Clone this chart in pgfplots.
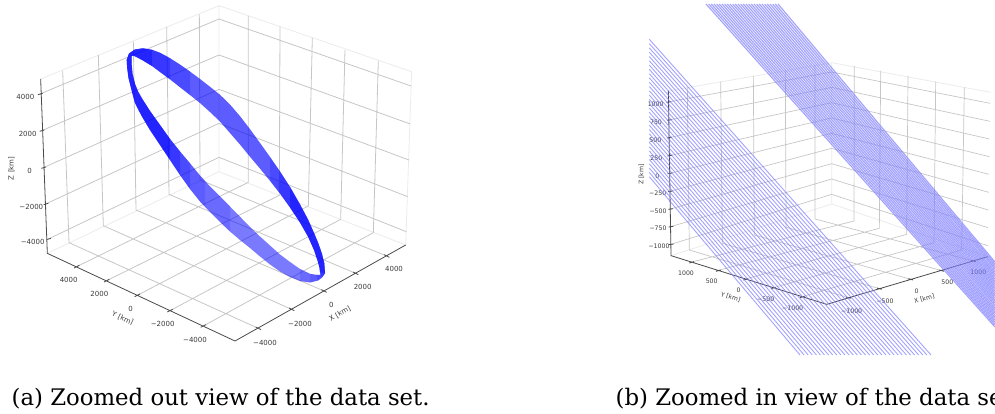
\documentclass[border=0pt]{standalone}
\usepackage{fontspec}
\setmainfont{DejaVu Sans}
\newfontfamily\capfont{DejaVu Serif}
\usepackage{pgfplots}
\pgfplotsset{compat=1.18}
\definecolor{gridc}{HTML}{C6C6C6}
\definecolor{panec}{HTML}{EBEBEB}
\definecolor{axc}{HTML}{4A4A4A}
\definecolor{txt}{HTML}{3A3A3A}
\definecolor{bandc}{HTML}{7C7CFF}
\pgfplotsset{canvas/.style={at={(0pt,0pt)},anchor=south west,scale only axis,width=995pt,height=414pt,
  y dir=reverse,ymin=0,ymax=1242,hide axis,clip mode=individual,unbounded coords=jump},
  ribbon/.style={draw=none,fill=blue,fill opacity=#1,no marks}}
\tikzset{lab/.style={font=\fontsize{#1}{#1}\selectfont,text=txt,inner sep=0pt}}
\begin{document}
\begin{tikzpicture}
\useasboundingbox (0pt,0pt) rectangle (995pt,414pt);
% ---------- panel (a): frame in zoom units ----------
\begin{axis}[canvas,xmin=0,xmax=2985]
\addplot[panec,line width=.8pt,no marks] table[row sep=crcr]{
142 760\\ 657 515\\ 1217 735\\ nan nan\\ 122 237\\ 657 17\\ 1235 215\\ nan nan\\ 657 17\\ 657 515\\ nan nan\\ 1235 215\\ 1217 735\\};
\addplot[gridc,line width=.8pt,no marks] table[row sep=crcr]{
207 728\\ 188 212\\ nan nan\\ 310 677\\ 295 165\\ nan nan\\ 408 630\\ 400 125\\ nan nan\\ 507 583\\ 500 80\\ nan nan\\ 600 540\\ 598 43\\ nan nan\\
745 547\\ 745 48\\ nan nan\\ 838 586\\ 840 80\\ nan nan\\ 925 618\\ 937 113\\ nan nan\\ 1022 658\\ 1035 150\\ nan nan\\ 1120 698\\ 1135 183\\ nan nan\\
120 282\\ 657 57\\ 1233 258\\ nan nan\\ 125 392\\ 657 165\\ 1231 372\\ nan nan\\ 130 503\\ 657 268\\ 1227 480\\ nan nan\\ 137 612\\ 657 370\\ 1223 590\\ nan nan\\ 145 717\\ 657 472\\ 1219 695\\ nan nan\\
230 800\\ 745 547\\ nan nan\\ 320 842\\ 838 586\\ nan nan\\ 412 886\\ 925 618\\ nan nan\\ 510 932\\ 1022 658\\ nan nan\\ 610 978\\ 1120 698\\ nan nan\\
775 985\\ 207 728\\ nan nan\\ 875 928\\ 310 677\\ nan nan\\ 972 873\\ 408 630\\ nan nan\\ 1067 820\\ 507 583\\ nan nan\\ 1160 768\\ 600 540\\};
\addplot[axc,line width=.8pt,no marks] table[row sep=crcr]{
122 237\\ 142 760\\ 705 1023\\ 1217 735\\ nan nan\\
114 284\\ 128 280\\ nan nan\\ 119 394\\ 133 390\\ nan nan\\ 124 505\\ 138 501\\ nan nan\\ 131 614\\ 145 610\\ nan nan\\ 139 719\\ 153 715\\ nan nan\\
222 804\\ 238 796\\ nan nan\\ 312 846\\ 328 838\\ nan nan\\ 404 890\\ 420 882\\ nan nan\\ 502 936\\ 518 928\\ nan nan\\ 602 982\\ 618 974\\ nan nan\\
767 981\\ 783 989\\ nan nan\\ 867 924\\ 883 932\\ nan nan\\ 964 869\\ 980 877\\ nan nan\\ 1059 816\\ 1075 824\\ nan nan\\ 1152 764\\ 1168 772\\};
\node[lab=7] at (axis cs:795,1030) {−4000};
\node[lab=7] at (axis cs:900,971) {−2000};
\node[lab=7] at (axis cs:994,915) {0};
\node[lab=7] at (axis cs:1088,860) {2000};
\node[lab=7] at (axis cs:1182,808) {4000};
\node[lab=7,rotate=30] at (axis cs:1020,942) {X [km]};
\node[lab=7] at (axis cs:206,839) {4000};
\node[lab=7] at (axis cs:298,883) {2000};
\node[lab=7] at (axis cs:392,928) {0};
\node[lab=7] at (axis cs:488,973) {−2000};
\node[lab=7] at (axis cs:585,1020) {−4000};
\node[lab=7,rotate=-25] at (axis cs:368,955) {Y [km]};
\node[lab=7] at (axis cs:76,290) {4000};
\node[lab=7] at (axis cs:83,402) {2000};
\node[lab=7] at (axis cs:89,512) {0};
\node[lab=7] at (axis cs:94,620) {−2000};
\node[lab=7] at (axis cs:98,727) {−4000};
\node[lab=7,rotate=90] at (axis cs:34,505) {Z [km]};
\end{axis}
% ---------- panel (b): frame in zoom units ----------
\begin{axis}[canvas,xmin=-1800,xmax=1185]
\addplot[panec,line width=.8pt,no marks] table[row sep=crcr]{
213 767\\ 695 612\\ 1163 770\\ nan nan\\ 205 273\\ 695 188\\ 1172 277\\ nan nan\\ 695 188\\ 695 612\\};
\addplot[gridc,line width=.7pt,no marks] table[row sep=crcr]{
268 750\\ 262 262\\ nan nan\\ 367 730\\ 362 245\\ nan nan\\ 463 705\\ 460 228\\ nan nan\\ 558 682\\ 556 212\\ nan nan\\ 645 657\\ 645 195\\ nan nan\\
762 663\\ 763 197\\ nan nan\\ 838 685\\ 842 212\\ nan nan\\ 920 703\\ 924 228\\ nan nan\\ 1002 728\\ 1007 245\\ nan nan\\ 1085 750\\ 1093 262\\ nan nan\\
205 306\\ 695 216\\ 1170 310\\ nan nan\\ 207 360\\ 695 262\\ 1170 364\\ nan nan\\ 207 413\\ 695 308\\ 1168 417\\ nan nan\\ 208 467\\ 695 354\\ 1168 470\\ nan nan\\ 209 520\\ 695 400\\ 1167 523\\ nan nan\\ 210 574\\ 695 445\\ 1166 577\\ nan nan\\ 211 627\\ 695 491\\ 1165 630\\ nan nan\\ 212 680\\ 695 537\\ 1164 683\\ nan nan\\ 213 733\\ 695 583\\ 1163 737\\ nan nan\\
275 786\\ 762 663\\ nan nan\\ 355 811\\ 838 685\\ nan nan\\ 437 837\\ 920 703\\ nan nan\\ 520 863\\ 1002 728\\ nan nan\\ 607 890\\ 1085 750\\ nan nan\\
745 893\\ 268 750\\ nan nan\\ 838 866\\ 367 730\\ nan nan\\ 932 838\\ 463 705\\ nan nan\\ 1025 812\\ 558 682\\ nan nan\\ 1120 783\\ 645 657\\};
\addplot[axc,line width=.8pt,no marks] table[row sep=crcr]{
205 273\\ 213 767\\ 680 913\\ 1163 770\\ nan nan\\
199 307\\ 213 305\\ nan nan\\ 201 361\\ 215 359\\ nan nan\\ 201 414\\ 215 412\\ nan nan\\ 202 468\\ 216 466\\ nan nan\\ 203 521\\ 217 519\\ nan nan\\ 204 575\\ 218 573\\ nan nan\\ 205 628\\ 219 626\\ nan nan\\ 206 681\\ 220 679\\ nan nan\\ 207 734\\ 221 732\\ nan nan\\
268 789\\ 282 785\\ nan nan\\ 348 814\\ 362 810\\ nan nan\\ 430 840\\ 444 836\\ nan nan\\ 513 866\\ 527 862\\ nan nan\\ 600 893\\ 614 889\\ nan nan\\
738 891\\ 752 895\\ nan nan\\ 831 864\\ 845 868\\ nan nan\\ 925 836\\ 939 840\\ nan nan\\ 1018 810\\ 1032 814\\ nan nan\\ 1113 781\\ 1127 785\\};
\node[lab=6.2] at (axis cs:167,313) {1000};
\node[lab=6.2] at (axis cs:168,367) {750};
\node[lab=6.2] at (axis cs:166,421) {500};
\node[lab=6.2] at (axis cs:169,475) {250};
\node[lab=6.2] at (axis cs:172,528) {0};
\node[lab=6.2] at (axis cs:173,581) {−250};
\node[lab=6.2] at (axis cs:174,633) {−500};
\node[lab=6.2] at (axis cs:174,686) {−750};
\node[lab=6.2] at (axis cs:177,738) {−1000};
\node[lab=6.2,rotate=90] at (axis cs:124,523) {Z [km]};
\node[lab=6.2] at (axis cs:258,820) {1000};
\node[lab=6.2] at (axis cs:335,845) {500};
\node[lab=6.2] at (axis cs:416,872) {0};
\node[lab=6.2] at (axis cs:497,897) {−500};
\node[lab=6.2] at (axis cs:578,925) {−1000};
\node[lab=6.2,rotate=-18] at (axis cs:392,892) {Y [km]};
\node[lab=6.2] at (axis cs:755,933) {−1000};
\node[lab=6.2] at (axis cs:855,903) {−500};
\node[lab=6.2] at (axis cs:950,875) {0};
\node[lab=6.2] at (axis cs:1042,847) {500};
\node[lab=6.2] at (axis cs:1135,818) {1000};
\node[lab=6.2,rotate=16] at (axis cs:973,896) {X [km]};
\end{axis}
% ---------- data and captions: picture pixels ----------
\begin{axis}[canvas,xmin=0,xmax=995,ymin=0,ymax=414]
% whole ribbon
\addplot[ribbon=.52] table[row sep=crcr]{
126.7 60\\129 53.5\\135 49.5\\143 48.3\\152 49.8\\160 52.8\\170 58.2\\180 64.6\\190 71.6\\200 79\\210 86.8\\220 94.8\\230 104.6\\240 116.2\\250 129.2\\260 143\\270 157\\280 171.5\\290 187\\300 204.5\\308 219.5\\314 233\\318.3 243.3\\322 254\\324.3 263.3\\325 273.3\\322 277.5\\318 280.5\\310 282.5\\300 281\\290 277\\280 271.5\\270 264.5\\260 256.5\\250 248\\240 240\\230 231.5\\220 222\\210 212\\200 201.5\\190 189\\180 175\\170 160\\160 145\\150 130\\142 116.5\\138 109\\135 103\\132 92\\128.5 78\\127.2 68\\126.7 60\\
131.7 56\\131.7 60\\131.7 65\\132.5 74\\135 84\\138 91.5\\142 98.5\\150 111\\160 125\\170 139\\180 151.5\\190 163.3\\200 175.5\\210 186.5\\220 196.5\\230 206.5\\240 216.7\\250 227\\260 236.5\\270 245.5\\280 254.5\\290 262\\300 269\\310 273.8\\316 274.8\\320.5 275\\320 272\\319.5 268\\318 262\\314 250\\308 236.5\\300 222.5\\290 207.5\\280 193.5\\270 180.8\\260 168.5\\250 156.7\\240 144.5\\230 133\\220 121.5\\210 112\\200 103\\190 95\\180 87.2\\170 79.3\\160 72\\152 66\\143 60.5\\136.5 57\\133 55.5\\131.7 56\\126.7 60\\} -- cycle;
% denser part of the ribbon, in two steps
\addplot[ribbon=.13] table[row sep=crcr]{
230 231.5\\220 222\\210 212\\200 201.5\\190 189\\180 175\\170 160\\160 145\\150 130\\142 116.5\\138 109\\135 103\\132 92\\128.5 78\\127.2 68\\126.7 60\\129 53.5\\135 49.5\\143 48.3\\152 49.8\\160 52.8\\170 58.2\\180 64.6\\190 71.6\\200 79\\210 86.8\\220 94.8\\230 104.6\\240 116.2\\250 129.2\\260 143\\270 157\\280 171.5\\290 187\\300 204.5\\308 219.5\\314 233\\318.3 243.3\\322 254\\324.3 263.3\\325 273.3\\322 277.5\\318 280.5\\310 282.5\\300 281\\
300 269\\310 273.8\\316 274.8\\320.5 275\\320 272\\319.5 268\\318 262\\314 250\\308 236.5\\300 222.5\\290 207.5\\280 193.5\\270 180.8\\260 168.5\\250 156.7\\240 144.5\\230 133\\220 121.5\\210 112\\200 103\\190 95\\180 87.2\\170 79.3\\160 72\\152 66\\143 60.5\\136.5 57\\133 55.5\\131.7 56\\131.7 60\\131.7 65\\132.5 74\\135 84\\138 91.5\\142 98.5\\150 111\\160 125\\170 139\\180 151.5\\190 163.3\\200 175.5\\210 186.5\\220 196.5\\230 206.5\\} -- cycle;
\addplot[ribbon=.13] table[row sep=crcr]{
205 207\\200 201.5\\190 189\\180 175\\170 160\\160 145\\150 130\\142 116.5\\138 109\\135 103\\132 92\\128.5 78\\127.2 68\\126.7 60\\129 53.5\\135 49.5\\143 48.3\\152 49.8\\160 52.8\\170 58.2\\180 64.6\\190 71.6\\200 79\\210 86.8\\220 94.8\\230 104.6\\240 116.2\\250 129.2\\260 143\\270 157\\280 171.5\\290 187\\300 204.5\\308 219.5\\314 233\\318.3 243.3\\322 254\\324.3 263.3\\325 273.3\\322 277.5\\318 280.5\\310 282.5\\
310 273.8\\316 274.8\\320.5 275\\320 272\\319.5 268\\318 262\\314 250\\308 236.5\\300 222.5\\290 207.5\\280 193.5\\270 180.8\\260 168.5\\250 156.7\\240 144.5\\230 133\\220 121.5\\210 112\\200 103\\190 95\\180 87.2\\170 79.3\\160 72\\152 66\\143 60.5\\136.5 57\\133 55.5\\131.7 56\\131.7 60\\131.7 65\\132.5 74\\135 84\\138 91.5\\142 98.5\\150 111\\160 125\\170 139\\180 151.5\\190 163.3\\200 175.5\\205 181\\} -- cycle;
% top-left end
\addplot[ribbon=.2] table[row sep=crcr]{
190 189\\180 175\\170 160\\160 145\\150 130\\142 116.5\\138 109\\135 103\\132 92\\128.5 78\\127.2 68\\126.7 60\\129 53.5\\135 49.5\\143 48.3\\152 49.8\\160 52.8\\170 58.2\\180 64.6\\190 71.6\\190 95\\180 87.2\\170 79.3\\160 72\\152 66\\143 60.5\\136.5 57\\133 55.5\\131.7 56\\131.7 60\\131.7 65\\132.5 74\\135 84\\138 91.5\\142 98.5\\150 111\\160 125\\170 139\\180 151.5\\190 163.3\\} -- cycle;
\addplot[ribbon=.25] table[row sep=crcr]{
180 175\\170 160\\160 145\\150 130\\142 116.5\\138 109\\135 103\\132 92\\128.5 78\\127.2 68\\126.7 60\\129 53.5\\135 49.5\\143 48.3\\152 49.8\\160 52.8\\170 58.2\\170 79.3\\160 72\\152 66\\143 60.5\\136.5 57\\133 55.5\\131.7 56\\131.7 60\\131.7 65\\132.5 74\\135 84\\138 91.5\\142 98.5\\150 111\\160 125\\170 139\\180 151.5\\} -- cycle;
\addplot[ribbon=.35] table[row sep=crcr]{
170 160\\160 145\\150 130\\142 116.5\\138 109\\135 103\\132 92\\128.5 78\\127.2 68\\126.7 60\\129 53.5\\135 49.5\\143 48.3\\152 49.8\\152 66\\143 60.5\\136.5 57\\133 55.5\\131.7 56\\131.7 60\\131.7 65\\132.5 74\\135 84\\138 91.5\\142 98.5\\150 111\\160 125\\170 139\\} -- cycle;
% bottom-right end
\addplot[ribbon=.2] table[row sep=crcr]{
270 157\\280 171.5\\290 187\\300 204.5\\308 219.5\\314 233\\318.3 243.3\\322 254\\324.3 263.3\\325 273.3\\322 277.5\\318 280.5\\316 274.8\\320.5 275\\320 272\\319.5 268\\318 262\\314 250\\308 236.5\\300 222.5\\290 207.5\\280 193.5\\270 180.8\\} -- cycle;
\addplot[ribbon=.25] table[row sep=crcr]{
280 171.5\\290 187\\300 204.5\\308 219.5\\314 233\\318.3 243.3\\322 254\\324.3 263.3\\325 273.3\\322 277.5\\320.5 275\\320 272\\319.5 268\\318 262\\314 250\\308 236.5\\300 222.5\\290 207.5\\280 193.5\\} -- cycle;
\addplot[ribbon=.35] table[row sep=crcr]{
290 187\\300 204.5\\308 219.5\\314 233\\318.3 243.3\\322 254\\324.3 263.3\\325 273.3\\320 272\\319.5 268\\318 262\\314 250\\308 236.5\\300 222.5\\290 207.5\\} -- cycle;
% left band of panel (b)
\addplot[bandc,line width=.9pt,opacity=.7,no marks] table[row sep=crcr]{
649.3 39.3\\ 931.0 355\\ nan nan\\ 649.3 43.6\\ 926.9 355\\ nan nan\\ 649.3 47.9\\ 922.8 355\\ nan nan\\ 649.3 52.2\\ 918.7 355\\ nan nan\\ 649.3 56.5\\ 914.6 355\\ nan nan\\ 649.3 60.8\\ 910.5 355\\ nan nan\\ 649.3 65.1\\ 906.4 355\\ nan nan\\ 649.3 69.4\\ 902.3 355\\ nan nan\\ 649.3 73.7\\ 898.2 355\\ nan nan\\ 649.3 77.9\\ 894.2 355\\ nan nan\\ 649.3 82.2\\ 890.1 355\\ nan nan\\ 649.3 86.5\\ 886.0 355\\ nan nan\\ 649.3 90.8\\ 881.9 355\\ nan nan\\ 649.3 95.1\\ 877.8 355\\ nan nan\\ 649.3 99.4\\ 873.7 355\\ nan nan\\ 649.3 103.7\\ 869.6 355\\ nan nan\\ 649.3 108.0\\ 865.5 355\\ nan nan\\ 649.3 112.3\\ 861.4 355\\ nan nan\\ 649.3 116.6\\ 857.3 355\\ nan nan\\ 649.3 120.9\\ 853.2 355\\ nan nan\\ 649.3 125.2\\ 849.1 355\\ nan nan\\ 649.3 129.5\\ 845.0 355\\ nan nan\\ 649.3 133.8\\ 840.9 355\\ nan nan\\ 649.3 138.1\\ 836.8 355\\ nan nan\\ 649.3 142.4\\ 832.7 355\\ nan nan\\ 649.3 146.7\\ 828.6 355\\ nan nan\\ 649.3 151.0\\ 824.5 355\\ nan nan\\ 649.3 155.2\\ 820.5 355\\ nan nan\\ 649.3 159.5\\ 816.4 355\\ nan nan\\ 649.3 163.8\\ 812.3 355\\ nan nan\\ 649.3 168.1\\ 808.2 355\\ nan nan\\ 649.3 172.4\\ 804.1 355\\ nan nan\\ 649.3 176.7\\ 800.0 355\\};
% right band of panel (b)
\addplot[bandc,line width=1.15pt,opacity=.7,no marks] table[row sep=crcr]{
706.0 4\\ 995 327\\ nan nan\\ 708.7 4\\ 995 324.6\\ nan nan\\ 711.3 4\\ 995 322.2\\ nan nan\\ 714.0 4\\ 995 319.8\\ nan nan\\ 716.7 4\\ 995 317.4\\ nan nan\\ 719.3 4\\ 995 315\\ nan nan\\ 722.0 4\\ 995 312.6\\ nan nan\\ 724.7 4\\ 995 310.2\\ nan nan\\ 727.3 4\\ 995 307.8\\ nan nan\\ 730.0 4\\ 995 305.3\\ nan nan\\ 732.7 4\\ 995 302.9\\ nan nan\\ 735.3 4\\ 995 300.5\\ nan nan\\ 738.0 4\\ 995 298.1\\ nan nan\\ 740.7 4\\ 995 295.7\\ nan nan\\ 743.3 4\\ 995 293.3\\ nan nan\\ 746.0 4\\ 995 290.9\\ nan nan\\ 748.7 4\\ 995 288.5\\ nan nan\\ 751.3 4\\ 995 286.1\\ nan nan\\ 754.0 4\\ 995 283.7\\ nan nan\\ 756.7 4\\ 995 281.3\\ nan nan\\ 759.3 4\\ 995 278.9\\ nan nan\\ 762.0 4\\ 995 276.5\\ nan nan\\ 764.7 4\\ 995 274.1\\ nan nan\\ 767.3 4\\ 995 271.7\\ nan nan\\ 770.0 4\\ 995 269.2\\ nan nan\\ 772.7 4\\ 995 266.8\\ nan nan\\ 775.3 4\\ 995 264.4\\ nan nan\\ 778.0 4\\ 995 262\\};
\node[anchor=base west,inner sep=0pt,font=\capfont\fontsize{22.8}{22.8}\selectfont] at (axis cs:11.5,405) {(a) Zoomed out view of the data set.};
\node[anchor=base west,inner sep=0pt,font=\capfont\fontsize{22.8}{22.8}\selectfont] at (axis cs:615.5,405) {(b) Zoomed in view of the data set.};
\end{axis}
\end{tikzpicture}
\end{document}
